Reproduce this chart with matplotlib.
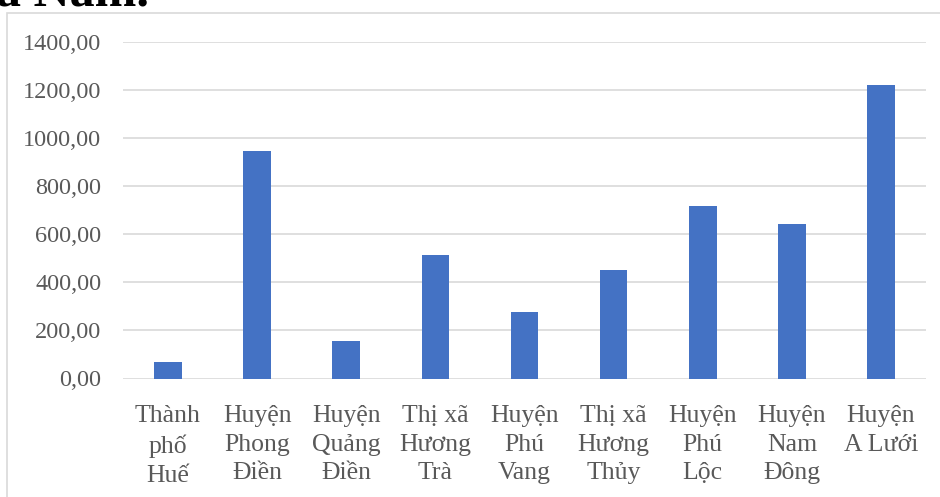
import matplotlib.pyplot as plt
from matplotlib.patches import Rectangle

categories = [
    "Thành\nphố\nHuế",
    "Huyện\nPhong\nĐiền",
    "Huyện\nQuảng\nĐiền",
    "Thị xã\nHương\nTrà",
    "Huyện\nPhú\nVang",
    "Thị xã\nHương\nThủy",
    "Huyện\nPhú\nLộc",
    "Huyện\nNam\nĐông",
    "Huyện\nA Lưới",
]
values = [67, 945, 158, 514, 275, 451, 717, 644, 1222]
yticks = [0, 200, 400, 600, 800, 1000, 1200, 1400]

plt.rcParams['font.family'] = ['Liberation Serif', 'DejaVu Serif']

W, H = 940, 497
fig = plt.figure(figsize=(W / 100, H / 100), dpi=100)

# chart frame (cut off at right and bottom in the reference)
fig.patches.append(Rectangle((7.5 / W, -0.1), 1.2, 1 - 13 / H + 0.1,
                             transform=fig.transFigure, fill=False,
                             edgecolor='#d9d9d9', linewidth=1.2))

# partial heading text above the chart
fig.text(-4 / W, 1 - 5 / H, "à Nam.", fontsize=36, fontweight='bold',
         color='black', ha='left', va='baseline')

ax = fig.add_axes([123.4 / W, 1 - 378.5 / H, (925.6 - 123.4) / W, (378.5 - 42) / H])
x = range(len(categories))
ax.bar(x, values, width=0.31, color='#4472C4', zorder=3)

ax.set_xlim(-0.5, len(categories) - 0.5)
ax.set_ylim(0, 1400)
ax.set_yticks(yticks)
ax.set_yticklabels([f"{v},00" for v in yticks])
ax.set_xticks(list(x))
ax.set_xticklabels(categories, linespacing=1.4)

ax.grid(axis='y', color='#d9d9d9', linewidth=1.2, zorder=0)
for s in ax.spines.values():
    s.set_visible(False)
ax.tick_params(axis='both', length=0, colors='#595959')
ax.tick_params(axis='y', labelsize=17.5, pad=16)
ax.tick_params(axis='x', labelsize=18.5, pad=19)

fig.savefig("out.png", dpi=100)
